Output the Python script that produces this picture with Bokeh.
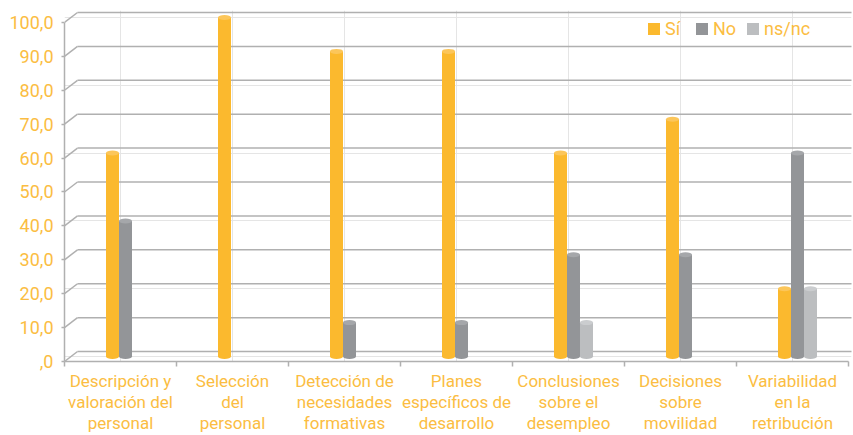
from bokeh.plotting import figure
from bokeh.models import Range1d, LinearAxis, FixedTicker, Legend, LegendItem
from bokeh.embed import file_html
from bokeh.resources import INLINE

# ---------------- data ----------------
categories = [
    "Descripción y\nvaloración del\npersonal",
    "Selección\ndel\npersonal",
    "Detección de\nnecesidades\nformativas",
    "Planes\nespecíficos de\ndesarrollo",
    "Conclusiones\nsobre el\ndesempleo",
    "Decisiones\nsobre\nmovilidad",
    "Variabilidad\nen la\nretribución",
]
series_names = ["Sí", "No", "ns/nc"]
si_values = [60, 100, 90, 90, 60, 70, 20]
no_values = [40, 0, 10, 10, 30, 30, 60]
nsnc_values = [0, 0, 0, 0, 10, 0, 20]
y_ticks = [0, 10, 20, 30, 40, 50, 60, 70, 80, 90, 100]
y_tick_labels = [",0", "10,0", "20,0", "30,0", "40,0", "50,0", "60,0", "70,0", "80,0", "90,0", "100,0"]

# ---------------- style ----------------
TEXT = "#FBBD42"
COLORS = ["#FBB92E", "#939598", "#BCBEC0"]
TOPS = ["#FCC65A", "#A5A7AA", "#CBCDCF"]
GRID = "#B0B0B0"
FONT = "Roboto"

W, H = 853, 435
F_LEFT, F_RIGHT, F_TOP, F_BOTTOM = 64, 851, 10, 362
PX_Y = 3.4          # pixels per value unit
PX_X = 112.0        # pixels per category
span_y = (F_BOTTOM - F_TOP) / PX_Y
back_dy = 10 / PX_Y     # depth of back wall (value units)
bar_dy = 5 / PX_Y       # bars stand at mid depth
back_dx = 13 / PX_X     # depth of back wall (category units)
bar_dx = 5 / PX_X
bar_w = 13 / PX_X
x0 = -0.5
x1 = x0 + (F_RIGHT - F_LEFT) / PX_X

p = figure(width=W, height=H, output_backend="svg", toolbar_location=None,
           x_range=Range1d(x0, x1), y_range=Range1d(-bar_dy, span_y - bar_dy),
           x_axis_location=None, y_axis_location=None,
           min_border_left=F_LEFT, min_border_right=W - F_RIGHT,
           min_border_top=F_TOP, min_border_bottom=H - F_BOTTOM)
p.extra_y_ranges = {"front": Range1d(0, span_y),
                    "back": Range1d(-back_dy, span_y - back_dy)}
p.outline_line_color = None
p.background_fill_color = "white"
p.border_fill_color = "white"

# back wall gridlines + perspective connectors
n = len(y_ticks)
p.segment(x0=[x0 + back_dx] * n, y0=y_ticks, x1=[x1 + 1] * n, y1=y_ticks,
          y_range_name="back", line_color=GRID, line_width=1.5)
p.segment(x0=[x0] * n, y0=[t - back_dy for t in y_ticks], x1=[x0 + back_dx] * n, y1=y_ticks,
          y_range_name="back", line_color=GRID, line_width=1.5)

# bars (cylinders)
renderers = []
for k, vals in enumerate([si_values, no_values, nsnc_values]):
    xs = [i + (k - 1) * bar_w + bar_dx for i, v in enumerate(vals) if v > 0]
    ts = [v for v in vals if v > 0]
    r = p.vbar(x=xs, top=ts, bottom=0, width=bar_w, fill_color=COLORS[k], line_color=None)
    p.ellipse(x=xs, y=[0] * len(xs), width=bar_w, height=5, height_units="screen",
              fill_color=COLORS[k], line_color=None)
    p.ellipse(x=xs, y=ts, width=bar_w, height=5, height_units="screen",
              fill_color=TOPS[k], line_color=None)
    renderers.append(r)

# x axis
xaxis = LinearAxis(
    ticker=FixedTicker(ticks=list(range(len(categories))),
                       minor_ticks=[i - 0.5 for i in range(len(categories) + 1)]),
    major_label_overrides={i: c for i, c in enumerate(categories)},
    bounds=(-0.5, len(categories) - 0.5),
    axis_line_color=GRID, axis_line_width=1.5,
    major_tick_in=0, major_tick_out=0,
    minor_tick_in=0, minor_tick_out=5, minor_tick_line_color=GRID, minor_tick_line_width=1.5,
    major_label_text_color=TEXT, major_label_text_font=FONT,
    major_label_text_font_size="17px", major_label_text_line_height=1.05,
    major_label_standoff=4)
p.add_layout(xaxis, "below")

# y axis
yaxis = LinearAxis(
    y_range_name="front",
    ticker=FixedTicker(ticks=y_ticks, minor_ticks=[]),
    major_label_overrides={t: l for t, l in zip(y_ticks, y_tick_labels)},
    bounds=(0, 100),
    axis_line_color=GRID, axis_line_width=1.5,
    major_tick_in=0, major_tick_out=3, major_tick_line_color=GRID, major_tick_line_width=1.5,
    minor_tick_in=0, minor_tick_out=0,
    major_label_text_color=TEXT, major_label_text_font=FONT,
    major_label_text_font_size="18px", major_label_standoff=8)
p.add_layout(yaxis, "left")

legend = Legend(
    items=[LegendItem(label=s, renderers=[r]) for s, r in zip(series_names, renderers)],
    orientation="horizontal", location=(582, 322),
    border_line_color=None, background_fill_alpha=0,
    label_text_color=TEXT, label_text_font=FONT, label_text_font_size="18px",
    glyph_width=15, glyph_height=15, spacing=9, label_standoff=4,
    padding=0, margin=0)
p.add_layout(legend)

open("out.html", "w").write(file_html(p, INLINE))
